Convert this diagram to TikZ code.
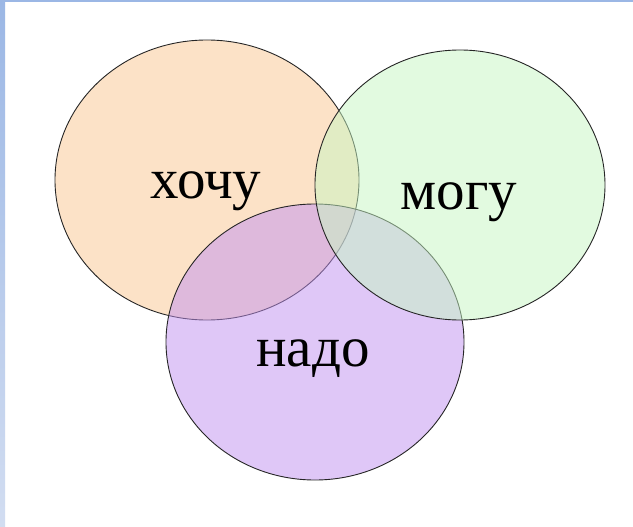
\documentclass[tikz,border=0pt]{standalone}
\usepackage{fontspec}
\setmainfont{Liberation Serif}
\definecolor{bordtop}{HTML}{9BB7E5}
\definecolor{bordbot}{HTML}{D2DDF1}
\definecolor{corange}{HTML}{FBC791}
\definecolor{cgreen}{HTML}{C7F7C3}
\definecolor{cpurple}{HTML}{C191F1}
\tikzset{
  venn/.style={draw=black!85, line width=0.9pt, fill opacity=0.5},
  word/.style={font=\fontsize{57}{64}\selectfont, anchor=base, inner sep=0pt}
}
\begin{document}
\begin{tikzpicture}[x=1pt,y=-1pt]
\useasboundingbox (0,0) rectangle (633,527);
\fill[white] (0,0) rectangle (633,527);
\shade[top color=bordtop, bottom color=bordbot] (0,0) rectangle (5,527);
\fill[bordtop] (0,0) rectangle (633,2.5);
\path[venn, fill=corange] (207,180) ellipse [x radius=152pt, y radius=140pt];
\path[venn, fill=cpurple] (315,342) ellipse [x radius=149pt, y radius=138pt];
\path[venn, fill=cgreen] (460,185) ellipse [x radius=145pt, y radius=135pt];
\node[word] (w1) at (206,199) {хочу};
\node[word] (w2) at (459,209) {могу};
\node[word] (w3) at (313,366) {надо};
\end{tikzpicture}
\end{document}
